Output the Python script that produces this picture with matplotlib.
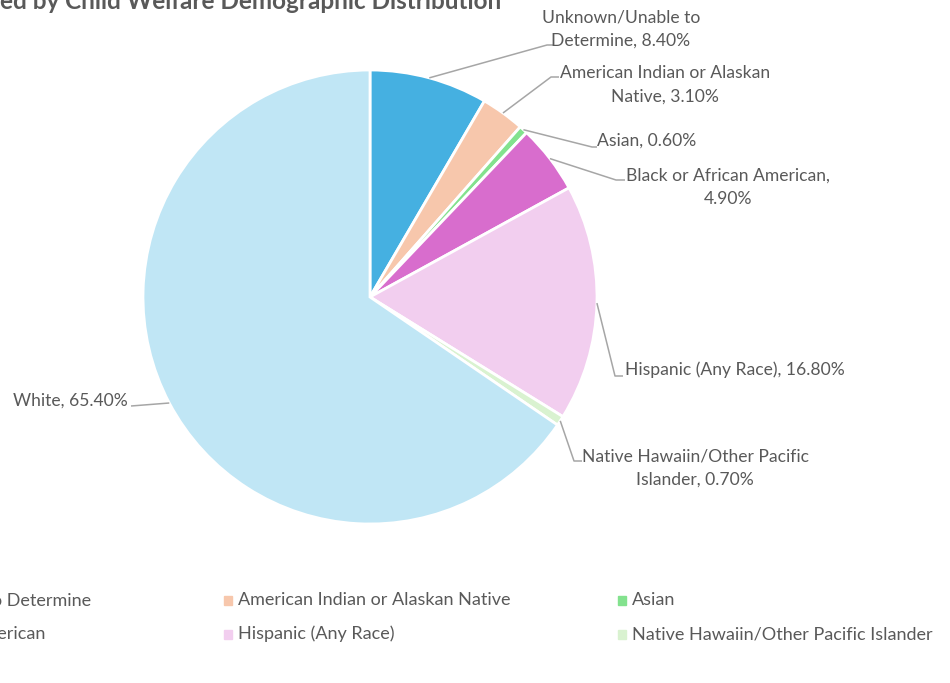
import matplotlib
matplotlib.use("Agg")
import matplotlib.pyplot as plt
import numpy as np

plt.rcParams['font.family'] = ['Lato', 'DejaVu Sans']

# data
categories = ["Unknown/Unable to Determine", "American Indian or Alaskan Native", "Asian",
              "Black or African American", "Hispanic (Any Race)",
              "Native Hawaiin/Other Pacific Islander", "White"]
label_names = ["Unknown/Unable to\nDetermine", "American Indian or Alaskan\nNative", "Asian",
               "Black or African American,\n", "Hispanic (Any Race)",
               "Native Hawaiin/Other Pacific\nIslander", "White"]
shares = [8.4, 3.1, 0.6, 4.9, 16.8, 0.7, 65.4]
colors = ["#45B0E1", "#F7C7AC", "#83E28E", "#D86DCD", "#F2CEEF", "#D9F2D0", "#C0E6F5"]

W, H = 950, 683
fig = plt.figure(figsize=(W / 100, H / 100), dpi=100)
ax = fig.add_axes([0, 0, 1, 1])

cx, cy, r = 370, H - 297, 227
wedges, _ = ax.pie(shares, colors=colors, startangle=90, counterclock=False,
                   center=(cx, cy), radius=r,
                   wedgeprops=dict(edgecolor="white", linewidth=2))
ax.set_xlim(0, W)
ax.set_ylim(0, H)
ax.set_aspect("equal")
ax.axis("off")

text_col = "#595959"
line_col = "#A6A6A6"

# elbow point of each leader line, then where the label sits
elbows = [(547, 45), (551, 77), (592, 147), (616, 180), (615, 376), (574, 461), (131, 406)]
ends = [(554, 45), (559, 77), (597, 147), (625, 180), (623, 376), (582, 461), (131, 406)]
label_pos = [(621, 29), (665, 85), (597, 141), (728, 187), (625, 370), (695, 468), (128, 401)]
label_ha = ["center", "center", "left", "center", "left", "center", "right"]

for w, name, val, el, en, lp, ha in zip(wedges, label_names, shares, elbows, ends, label_pos, label_ha):
    mid = np.deg2rad((w.theta1 + w.theta2) / 2)
    sx, sy = cx + r * np.cos(mid), cy + r * np.sin(mid)
    ax.plot([sx, el[0], en[0]], [sy, H - el[1], H - en[1]], color=line_col, lw=1.1,
            solid_capstyle="butt")
    if name.endswith("\n"):
        txt = f"{name}{val:.2f}%"
    else:
        txt = f"{name}, {val:.2f}%"
    ax.text(lp[0], H - lp[1], txt, ha=ha, va="center", fontsize=12.6, color=text_col,
            linespacing=1.55, multialignment="center")

# title (cut at the top edge)
fig.text(0.0, (H - 9) / H, "ed by Child Welfare Demographic Distribution", ha="left",
         va="baseline", fontsize=17.5, fontweight="bold", color=text_col)

# legend, three columns
leg_x = [-174, 224, 618]
leg_y = [600, 634]
for i, (cat, col) in enumerate(zip(categories[:6], colors[:6])):
    x = leg_x[i % 3]
    y = leg_y[i // 3]
    ax.add_patch(plt.Rectangle((x, H - y - 4.5), 8, 9, color=col))
    ax.text(x + 14, H - y, cat, ha="left", va="center", fontsize=13.0, color=text_col)

fig.savefig("out.png", dpi=100)
